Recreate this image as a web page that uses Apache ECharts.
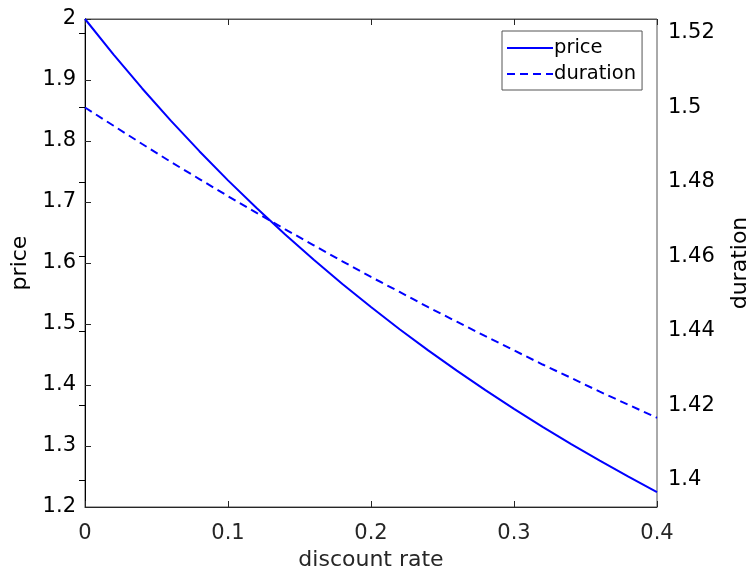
<!DOCTYPE html>
<html><head><meta charset="utf-8">
<script src="https://cdn.jsdelivr.net/npm/echarts@6/dist/echarts.min.js"></script>
<style>html,body{margin:0;padding:0;background:#fff}#c{width:748px;height:573px}</style>
</head><body><div id="c"></div>
<script>
const rates = [0,0.02,0.04,0.06,0.08,0.10,0.12,0.14,0.16,0.18,0.20,0.22,0.24,0.26,0.28,0.30,0.32,0.34,0.36,0.38,0.40];
const price = [2.0000,1.9416,1.8861,1.8334,1.7833,1.7355,1.6901,1.6467,1.6052,1.5656,1.5278,1.4915,1.4568,1.4235,1.3916,1.3609,1.3315,1.3032,1.2760,1.2497,1.2245];
const duration = [1.5000,1.4951,1.4902,1.4854,1.4808,1.4762,1.4717,1.4673,1.4630,1.4587,1.4545,1.4505,1.4464,1.4425,1.4386,1.4348,1.4310,1.4274,1.4237,1.4202,1.4167];
const xTicks = [0,0.1,0.2,0.3,0.4];
const leftTicks = [1.2,1.3,1.4,1.5,1.6,1.7,1.8,1.9,2];
const rightTicks = [1.40,1.42,1.44,1.46,1.48,1.50,1.52];

const FONT = 'DejaVu Sans, Liberation Sans, Arial, sans-serif';
const FS = 21;
const SOLID_ICON = 'path://M0,0h46v2h-46z';
const DASH_ICON = 'path://M0,0h8v2h-8zM13,0h8v2h-8zM26,0h8v2h-8zM39,0h7v2h-7z';
const chart = echarts.init(document.getElementById('c'), null, {renderer:'canvas'});
chart.setOption({
  animation:false,
  backgroundColor:'#fff',
  textStyle:{fontFamily:FONT},
  grid:{left:85,right:91,top:19,bottom:66,show:true,borderColor:'#555',borderWidth:1,
    containLabel:false, outerBoundsMode:'none'},
  legend:{
    orient:'vertical', left:502, top:31,
    backgroundColor:'#fff', borderColor:'#555', borderWidth:1,
    padding:[6,6,5,5], itemGap:4, itemWidth:46, itemHeight:2,
    textStyle:{fontFamily:FONT,fontSize:19.5,color:'#000',padding:[0,0,0,-4],lineHeight:22},
    data:[{name:'price',icon:SOLID_ICON,itemStyle:{color:'#0000ff'}},
          {name:'duration',icon:DASH_ICON,itemStyle:{color:'#0000ff'}}]
  },
  xAxis:[{
    type:'value', min:0, max:0.4, interval:0.1,
    name:'discount rate', nameLocation:'middle', nameGap:36,
    nameTextStyle:{fontFamily:FONT,fontSize:22,color:'#262626'},
    axisLine:{lineStyle:{color:'#262626',width:1}},
    axisTick:{inside:true,length:6,lineStyle:{color:'#262626'}},
    axisLabel:{fontFamily:FONT,fontSize:FS,color:'#262626',margin:16},
    splitLine:{show:false}
  },{
    type:'value', min:0, max:0.4, interval:0.1, position:'top',
    axisLine:{show:true,lineStyle:{color:'#555'}},
    axisTick:{inside:true,length:6,lineStyle:{color:'#262626'}},
    axisLabel:{show:false}, splitLine:{show:false}
  }],
  yAxis:[{
    type:'value', min:1.2, max:2, interval:0.1, position:'left',
    name:'price', nameLocation:'middle', nameGap:50, nameRotate:90,
    nameTextStyle:{fontFamily:FONT,fontSize:22,color:'#000'},
    axisLine:{show:true,lineStyle:{color:'#555',width:1}},
    axisTick:{show:true,inside:true,length:6,lineStyle:{color:'#262626'}},
    axisLabel:{fontFamily:FONT,fontSize:FS,color:'#000',margin:9,
      formatter:v=>String(Math.round(v*10)/10)},
    splitLine:{show:false}
  },{
    type:'value', min:1.39275, max:1.52376, position:'right',
    name:'duration', nameLocation:'middle', nameGap:72, nameRotate:90,
    nameTextStyle:{fontFamily:FONT,fontSize:22,color:'#000'},
    axisLine:{show:true,lineStyle:{color:'#000',width:1}},
    axisTick:{show:true,inside:true,length:6,customValues:rightTicks,lineStyle:{color:'#000'}},
    axisLabel:{fontFamily:FONT,fontSize:FS,color:'#000',margin:11,customValues:rightTicks,
      formatter:v=>String(Math.round(v*100)/100)},
    splitLine:{show:false}
  }],
  series:[{
    name:'price', type:'line', xAxisIndex:0, yAxisIndex:0,
    data:rates.map((r,i)=>[r,price[i]]),
    symbol:'none', smooth:false,
    lineStyle:{color:'#0000ff',width:2}, itemStyle:{color:'#0000ff'}
  },{
    name:'duration', type:'line', xAxisIndex:0, yAxisIndex:1,
    data:rates.map((r,i)=>[r,duration[i]]),
    symbol:'none', smooth:false,
    lineStyle:{color:'#0000ff',width:2,type:[8,5]}, itemStyle:{color:'#0000ff'}
  }]
});
</script></body></html>
